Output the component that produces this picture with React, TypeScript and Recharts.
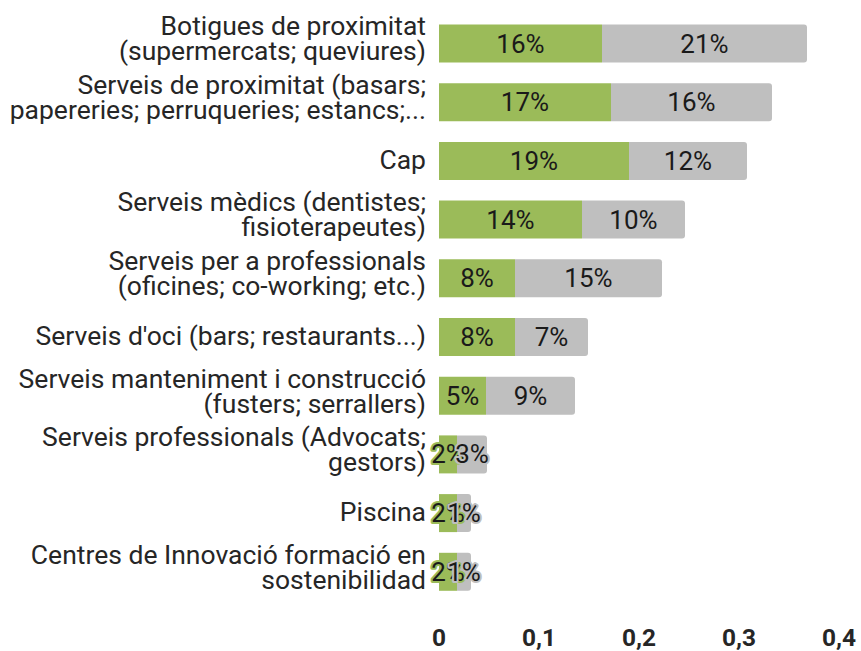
import React from "react";
import { BarChart, Bar, XAxis, YAxis, LabelList } from "recharts";

const categories = [
  "Botigues de proximitat\n(supermercats; queviures)",
  "Serveis de proximitat (basars;\npapereries; perruqueries; estancs;...",
  "Cap",
  "Serveis mèdics (dentistes;\nfisioterapeutes)",
  "Serveis per a professionals\n(oficines; co-working; etc.)",
  "Serveis d'oci (bars; restaurants...)",
  "Serveis manteniment i construcció\n(fusters; serrallers)",
  "Serveis professionals (Advocats;\ngestors)",
  "Piscina",
  "Centres de Innovació formació en\nsostenibilidad",
];
const greenValues = [0.163, 0.172, 0.19, 0.143, 0.076, 0.076, 0.047, 0.018, 0.018, 0.018];
const grayValues = [0.205, 0.161, 0.118, 0.103, 0.147, 0.073, 0.089, 0.03, 0.014, 0.014];
const xTicks = [0, 0.1, 0.2, 0.3, 0.4];

const GREEN = "#9bbb59";
const GRAY = "#bfbfbf";
const FONT = "Roboto, sans-serif";
const STRETCH = 1.06;

const data = categories.map((name, i) => ({ name, a: greenValues[i], b: grayValues[i] }));

const pct = (v: any) => `${Math.round(Number(v) * 100)}%`;

const CategoryTick = (props: any) => {
  const { x, y, payload } = props;
  const lines = String(payload.value).split("\n");
  const n = lines.length;
  const base = n === 1 ? 8 : 4.5;
  return (
    <g transform={`translate(${x - 5},${y}) scale(${STRETCH},1)`}>
      <text textAnchor="end" fontFamily={FONT} fontSize={25} fill="#262626">
        {lines.map((l, i) => (
          <tspan key={i} x={0} y={base + (i - (n - 1) / 2) * 25}>
            {l}
          </tspan>
        ))}
      </text>
    </g>
  );
};

const ValueTick = (props: any) => {
  const { x, y, payload } = props;
  return (
    <g transform={`translate(${x},${y}) scale(1.04,1)`}>
      <text x={0} y={0} dy={37} textAnchor="middle" fontFamily={FONT} fontWeight={700} fontSize={23.5} fill="#262626">
        {String(payload.value).replace(".", ",")}
      </text>
    </g>
  );
};

const makeLabel = (stroke: string) => (props: any) => {
  const { x, y, width, height, value } = props;
  return (
    <g transform={`translate(${x + width / 2},${y + height / 2}) scale(1.04,1)`}>
      <text
        x={0}
        y={0}
        dy={9}
        textAnchor="middle"
        fontFamily={FONT}
        fontSize={25}
        fill="#1a1a1a"
        stroke={stroke}
        strokeWidth={4}
        strokeLinejoin="round"
        paintOrder="stroke"
      >
        {pct(value)}
      </text>
    </g>
  );
};

export default function App() {
  return (
    <div style={{ position: "absolute", left: 0, top: 0, background: "#fff" }}>
      <BarChart
        width={861}
        height={651}
        data={data}
        layout="vertical"
        margin={{ top: 14, right: 22, left: 0, bottom: 0 }}
        barCategoryGap={10.5}
      >
        <XAxis
          type="number"
          domain={[0, 0.4]}
          ticks={xTicks}
          axisLine={false}
          tickLine={false}
          height={50}
          tick={<ValueTick />}
          interval={0}
        />
        <YAxis
          type="category"
          dataKey="name"
          width={439}
          axisLine={false}
          tickLine={false}
          tick={<CategoryTick />}
          interval={0}
        />
        <Bar dataKey="a" stackId="s" fill={GREEN} isAnimationActive={false}>
          <LabelList dataKey="a" content={makeLabel(GREEN)} />
        </Bar>
        <Bar dataKey="b" stackId="s" fill={GRAY} radius={[0, 3, 3, 0]} isAnimationActive={false}>
          <LabelList dataKey="b" content={makeLabel(GRAY)} />
        </Bar>
      </BarChart>
    </div>
  );
}
